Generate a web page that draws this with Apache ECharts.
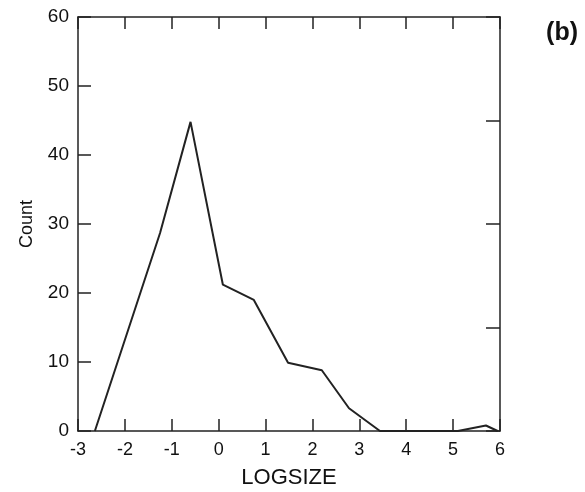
<!DOCTYPE html>
<html>
<head>
<meta charset="utf-8">
<script src="https://cdn.jsdelivr.net/npm/echarts@6/dist/echarts.min.js"></script>
<style>
html,body{margin:0;padding:0;background:#fff;}
#chart{width:585px;height:492px;}
</style>
</head>
<body>
<div id="chart"></div>
<script>
var logSize = [-2.64, -1.25, -0.6, 0.09, 0.75, 1.48, 2.2, 2.78, 3.44, 4.3, 5.1, 5.7, 5.95];
var counts  = [0, 28.7, 44.8, 21.2, 19, 9.9, 8.8, 3.3, 0, 0, 0, 0.8, 0];
var xTicks = [-3, -2, -1, 0, 1, 2, 3, 4, 5, 6];
var yTicks = [0, 10, 20, 30, 40, 50, 60];
var rightTicks = [0, 15, 30, 45, 60];
var xTitle = 'LOGSIZE';
var yTitle = 'Count';
var panelLabel = '(b)';

var chart = echarts.init(document.getElementById('chart'), null, {renderer: 'canvas'});
var font = 'Liberation Sans, Arial, Helvetica, sans-serif';
function axisLine() { return {show: true, onZero: false, lineStyle: {color: '#222', width: 1.5}}; }
var option = {
  animation: false,
  backgroundColor: '#fff',
  grid: {left: 78, top: 17, right: 85, bottom: 61, containLabel: false, outerBoundsMode: 'none'},
  title: {
    text: panelLabel, right: 2, top: 16,
    textStyle: {fontFamily: font, fontSize: 25, fontWeight: 'bold', color: '#111'}
  },
  xAxis: [{
    type: 'value', position: 'bottom', min: xTicks[0], max: xTicks[xTicks.length - 1], interval: 1,
    name: xTitle, nameLocation: 'middle', nameGap: 36,
    nameTextStyle: {fontFamily: font, fontSize: 22, color: '#111'},
    axisLine: axisLine(),
    axisTick: {show: true, inside: true, length: 12, lineStyle: {color: '#222', width: 1.5}},
    axisLabel: {fontFamily: font, fontSize: 18, color: '#111', margin: 10},
    splitLine: {show: false}
  }, {
    type: 'value', position: 'top', min: xTicks[0], max: xTicks[xTicks.length - 1], interval: 1,
    axisLine: axisLine(),
    axisTick: {show: true, inside: true, length: 12, lineStyle: {color: '#222', width: 1.5}},
    axisLabel: {show: false},
    splitLine: {show: false}
  }],
  yAxis: [{
    type: 'value', position: 'left', min: yTicks[0], max: yTicks[yTicks.length - 1], interval: 10,
    name: yTitle, nameLocation: 'middle', nameGap: 42,
    nameTextStyle: {fontFamily: font, fontSize: 18, color: '#111'},
    axisLine: axisLine(),
    axisTick: {show: true, inside: true, length: 13, lineStyle: {color: '#222', width: 1.5}},
    axisLabel: {fontFamily: font, fontSize: 19, color: '#111', margin: 9},
    splitLine: {show: false}
  }, {
    type: 'value', position: 'right', min: rightTicks[0], max: rightTicks[rightTicks.length - 1], interval: 15,
    axisLine: axisLine(),
    axisTick: {show: true, inside: true, length: 14, lineStyle: {color: '#222', width: 1.5}},
    axisLabel: {show: false},
    splitLine: {show: false}
  }],
  series: [{
    type: 'line',
    xAxisIndex: 0, yAxisIndex: 0,
    data: logSize.map(function (x, i) { return [x, counts[i]]; }),
    showSymbol: false,
    symbol: 'none',
    lineStyle: {color: '#222', width: 2},
    silent: true
  }]
};
chart.setOption(option);
</script>
</body>
</html>
